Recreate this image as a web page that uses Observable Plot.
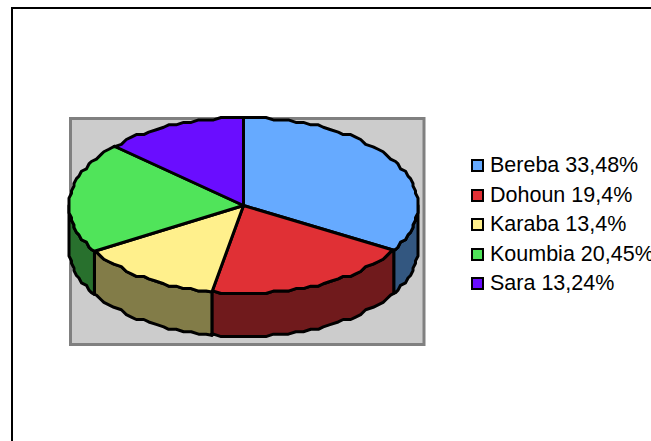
<!DOCTYPE html>
<html><head><meta charset="utf-8">
<script src="https://cdn.jsdelivr.net/npm/d3@7"></script>
<script src="https://cdn.jsdelivr.net/npm/@observablehq/plot@0.6"></script>
<style>
html,body{margin:0;padding:0;background:#fff;width:651px;height:441px;overflow:hidden}
#page{position:relative;width:651px;height:441px;overflow:hidden;font-family:"Liberation Sans",Arial,sans-serif}
#border{position:absolute;left:11px;top:7px;width:800px;height:600px;border:2px solid #000}
#chart{position:absolute;left:0;top:0}
#legend{position:absolute;left:471px;top:151px;white-space:nowrap;font-size:21.5px;color:#000}
.row{height:29.5px;line-height:29.5px;display:flex;align-items:center}
.sw{box-sizing:border-box;width:13px;height:13px;border:2.5px solid #000;margin-right:6px}
</style></head>
<body><div id="page"><div id="border"></div><div id="chart"></div><div id="legend"></div></div>
<script>
const names = ["Bereba","Dohoun","Karaba","Koumbia","Sara"];
const shares = [33.48,19.4,13.4,20.45,13.24];
const labels = ["33,48%","19,4%","13,4%","20,45%","13,24%"];
const topColors = ["#66aaff","#e03035","#fff08c","#50e45a","#6a0dff"];
const sideColors = ["#335780","#701a1c","#827c48","#28702d","#35087f"];
const depth = 0.49;

const total = d3.sum(shares);
const ends = d3.cumsum(shares).map(v => v/total*360);
const snapX = v => Math.round(v*70)/70, snapY = v => Math.round(v*36)/36;
const pt = (deg) => {
  const r = deg*Math.PI/180;
  return [snapX(Math.sin(r)), snapY(Math.cos(r))];
};
function arc(a,b){
  const out=[[Math.sin(a*Math.PI/180),Math.cos(a*Math.PI/180)]];
  const step=2.5;
  for(let d=Math.ceil(a/step+1e-6)*step;d<b-1e-6;d+=step) out.push(pt(d));
  out.push([Math.sin(b*Math.PI/180),Math.cos(b*Math.PI/180)]);
  return out;
}
const sideRows=[], topRows=[];
names.forEach((n,i)=>{
  const a=i?ends[i-1]:0, b=ends[i];
  const ring=[[0,0],...arc(a,b),[0,0]];
  ring.forEach(([x,y])=>topRows.push({id:n,color:topColors[i],x,y}));
  const s=Math.max(a,90), e=Math.min(b,270);
  if(s<e){
    const up=arc(s,e), low=[...up].reverse().map(([x,y])=>[x,y-depth]);
    [...up,...low,up[0]].forEach(([x,y])=>sideRows.push({id:n,color:sideColors[i],x,y}));
  }
});
const svg=Plot.plot({
  width:651,height:441,marginLeft:70,marginTop:118,marginRight:227.5,marginBottom:97,
  x:{axis:null,domain:[-1,1],range:[68.5,417.5]},
  y:{axis:null,domain:[1,-1],range:[117,293]},
  color:{type:"identity"},
  marks:[
    Plot.frame({fill:"#cccccc",stroke:"#808080",strokeWidth:3}),
    Plot.line(sideRows,{x:"x",y:"y",z:"id",fill:"color",stroke:"#000",strokeWidth:3,strokeLinejoin:"round",curve:"linear",clip:false}),
    Plot.line(topRows,{x:"x",y:"y",z:"id",fill:"color",stroke:"#000",strokeWidth:3,strokeLinejoin:"round",curve:"linear",clip:false})
  ]
});
svg.style.background="transparent";svg.style.overflow="visible";
document.getElementById("chart").appendChild(svg);
const lg=document.getElementById("legend");
names.forEach((n,i)=>{
  const r=document.createElement("div");r.className="row";
  const s=document.createElement("span");s.className="sw";s.style.background=topColors[i];
  const t=document.createElement("span");t.textContent=n+" "+labels[i];
  r.append(s,t);lg.append(r);
});
</script></body></html>
